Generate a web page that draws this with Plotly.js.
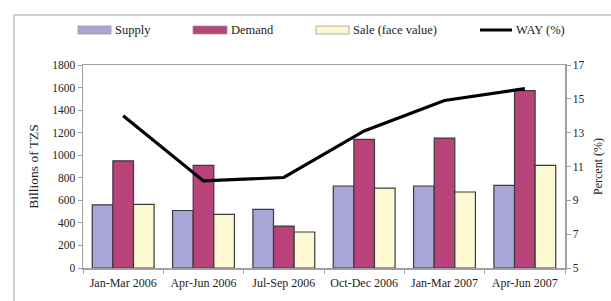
<!DOCTYPE html>
<html>
<head>
<meta charset="utf-8">
<script src="https://cdn.plot.ly/plotly-3.0.1.min.js"></script>
<style>html,body{margin:0;padding:0;background:#fff;}#chart{width:611px;height:301px;}</style>
</head>
<body>
<div id="chart"></div>
<script>
const categories = ["Jan-Mar 2006","Apr-Jun 2006","Jul-Sep 2006","Oct-Dec 2006","Jan-Mar 2007","Apr-Jun 2007"];
const supply = [560, 510, 520, 727, 727, 733];
const demand = [950, 910, 372, 1140, 1152, 1572];
const sale = [565, 476, 319, 709, 674, 910];
const way = [14.0, 10.15, 10.35, 13.1, 14.9, 15.6];
const seriesNames = ["Supply","Demand","Sale (face value)","WAY (%)"];
const leftTicks = [0,200,400,600,800,1000,1200,1400,1600,1800];
const rightTicks = [5,7,9,11,13,15,17];

const colors = ["#A9A5D7","#B8437A","#FCF8D2","#000000"];
const font = "Liberation Serif, Times New Roman, serif";
const outline = {color:"#3a3a3a", width:1.2};

const W = 611, H = 301, L = 83, R = 46, T = 65, B = 33;
const pw = W - L - R, ph = H - T - B;
const px = x => (x - L) / pw;
const py = y => (H - B - y) / ph;

const traces = [
  {type:"bar", x:categories, y:supply, name:seriesNames[0], marker:{color:colors[0], line:outline}},
  {type:"bar", x:categories, y:demand, name:seriesNames[1], marker:{color:colors[1], line:outline}},
  {type:"bar", x:categories, y:sale, name:seriesNames[2], marker:{color:colors[2], line:outline}},
  {type:"scatter", mode:"lines", x:categories, y:way, name:seriesNames[3], yaxis:"y2", line:{color:colors[3], width:3.2}}
];

// custom legend (swatches drawn as shapes, labels as annotations)
const legendPos = [
  {x0:78, x1:111, tx:113},
  {x0:193, x1:227, tx:229},
  {x0:316, x1:349, tx:351},
  {x0:480, x1:512, tx:514}
];
const shapes = [
  {type:"rect", xref:"paper", yref:"paper", x0:px(14), x1:px(640), y0:py(330), y1:py(15),
   line:{color:"#c4c4c4", width:1.5}, fillcolor:"rgba(0,0,0,0)", layer:"below"}
];
const annotations = [];
legendPos.forEach((p,i) => {
  if (i < 3) {
    shapes.push({type:"rect", xref:"paper", yref:"paper", x0:px(p.x0), x1:px(p.x1), y0:py(34), y1:py(26),
      fillcolor:colors[i], line:{color:"#9a9a9a", width:0.8}});
  } else {
    shapes.push({type:"line", xref:"paper", yref:"paper", x0:px(p.x0), x1:px(p.x1), y0:py(30), y1:py(30),
      line:{color:colors[i], width:3}});
  }
  annotations.push({xref:"paper", yref:"paper", x:px(p.tx), y:py(30), xanchor:"left", yanchor:"middle",
    text:seriesNames[i], showarrow:false, font:{family:font, size:12.5, color:"#222"}});
});

const layout = {
  width:W, height:H,
  margin:{l:L, r:R, t:T, b:B, pad:0},
  paper_bgcolor:"#fff", plot_bgcolor:"#fff",
  showlegend:false,
  barmode:"group", bargap:0.23, bargroupgap:0,
  font:{family:font, size:12, color:"#222"},
  xaxis:{type:"category", showline:true, linecolor:"#a0a0a0", linewidth:1.5, mirror:true,
    ticks:"outside", tickson:"boundaries", ticklen:4, tickcolor:"#a0a0a0",
    ticklabelstandoff:3,
    showgrid:false, tickfont:{family:font, size:12, color:"#222"}},
  yaxis:{range:[0,1800], tickvals:leftTicks, ticktext:leftTicks.map(String), showline:true, linecolor:"#a0a0a0", linewidth:1.5,
    ticks:"outside", ticklen:4, tickcolor:"#a0a0a0", showgrid:false, zeroline:false,
    tickfont:{family:font, size:11.5, color:"#222"},
    title:{text:"Billions of TZS", font:{family:font, size:13.5, color:"#222"}, standoff:10}},
  yaxis2:{overlaying:"y", side:"right", range:[5,17], tickvals:rightTicks, ticktext:rightTicks.map(String),
    showline:true, linecolor:"#a0a0a0", linewidth:1.5, ticks:"outside", ticklen:4, tickcolor:"#a0a0a0",
    showgrid:false, zeroline:false, tickfont:{family:font, size:11.5, color:"#222"},
    title:{text:"Percent (%)", font:{family:font, size:12, color:"#222"}, standoff:10}},
  shapes:shapes,
  annotations:annotations
};

Plotly.newPlot("chart", traces, layout, {staticPlot:true, displayModeBar:false});
</script>
</body>
</html>
